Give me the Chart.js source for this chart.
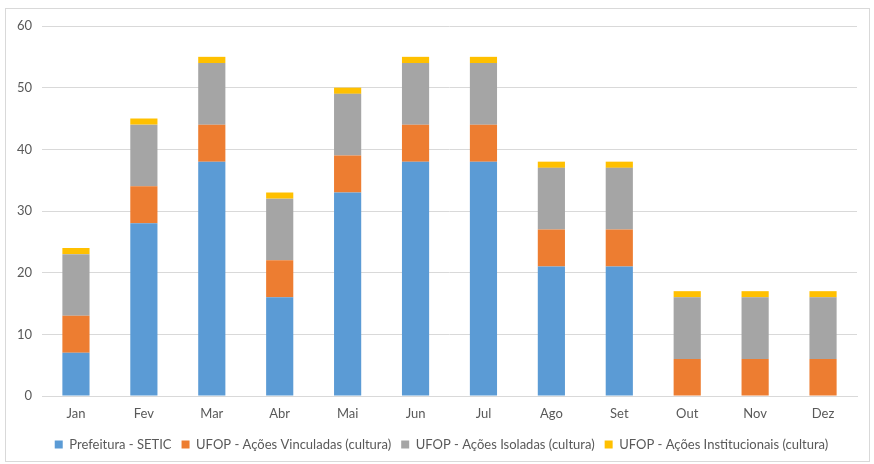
<!DOCTYPE html>
<html><head><meta charset="utf-8">
<script src="https://cdn.jsdelivr.net/npm/chart.js@4/dist/chart.umd.min.js"></script>
<style>
html,body{margin:0;padding:0;background:#fff;}
#frame{position:absolute;left:5px;top:8px;width:865px;height:454px;border:1px solid #d9d9d9;box-sizing:border-box;}
#wrap{position:absolute;left:0;top:0;width:874px;height:464px;}
</style></head>
<body>
<div id="frame"></div>
<div id="wrap"><canvas id="c" width="874" height="464"></canvas></div>
<script>
const categories = ['Jan','Fev','Mar','Abr','Mai','Jun','Jul','Ago','Set','Out','Nov','Dez'];
const prefeitura = [7,28,38,16,33,38,38,21,21,0,0,0];
const vinculadas = [6,6,6,6,6,6,6,6,6,6,6,6];
const isoladas = [10,10,10,10,10,10,10,10,10,10,10,10];
const institucionais = [1,1,1,1,1,1,1,1,1,1,1,1];
const seriesNames = ['Prefeitura - SETIC','UFOP - Ações Vinculadas (cultura)','UFOP - Ações Isoladas (cultura)','UFOP - Ações Institucionais (cultura)'];
const yTicks = [0,10,20,30,40,50,60];

const colors = ['#5B9BD5','#ED7D31','#A5A5A5','#FFC000'];
const data = [prefeitura, vinculadas, isoladas, institucionais];
Chart.defaults.font.family = 'Lato, "Open Sans", sans-serif';
Chart.defaults.font.size = 13;
Chart.defaults.color = '#595959';
const legendShift = {
  id:'legendShift',
  afterLayout(chart){ const l = chart.legend; if(l){ l.left += 13; l.right += 13; l.adjustHitBoxes && l.adjustHitBoxes(); } }
};
new Chart(document.getElementById('c'), {
  type: 'bar',
  data: {
    labels: categories,
    datasets: data.map((d,i)=>({label: seriesNames[i], data: d, backgroundColor: colors[i], borderWidth:0, barPercentage:0.4, categoryPercentage:1}))
  },
  plugins:[legendShift],
  options: {
    responsive:false, animation:false,
    layout:{padding:{left:0,right:17,top:26,bottom:3}},
    plugins:{
      tooltip:{enabled:false},
      legend:{position:'bottom', labels:{boxWidth:8, boxHeight:8, padding:10, font:{size:13}}}
    },
    scales:{
      x:{stacked:true, grid:{display:false, drawTicks:false}, border:{color:'#d9d9d9'}, ticks:{padding:10},
         afterFit:(s)=>{s.height=32;}},
      y:{stacked:true, min:0, max:60, afterBuildTicks:(s)=>{s.ticks=yTicks.map(v=>({value:v}));},
         afterFit:(s)=>{s.width=42;},
         grid:{color:'#d9d9d9', drawTicks:false}, border:{display:false}, ticks:{padding:10}}
    }
  }
});
</script>
</body></html>
